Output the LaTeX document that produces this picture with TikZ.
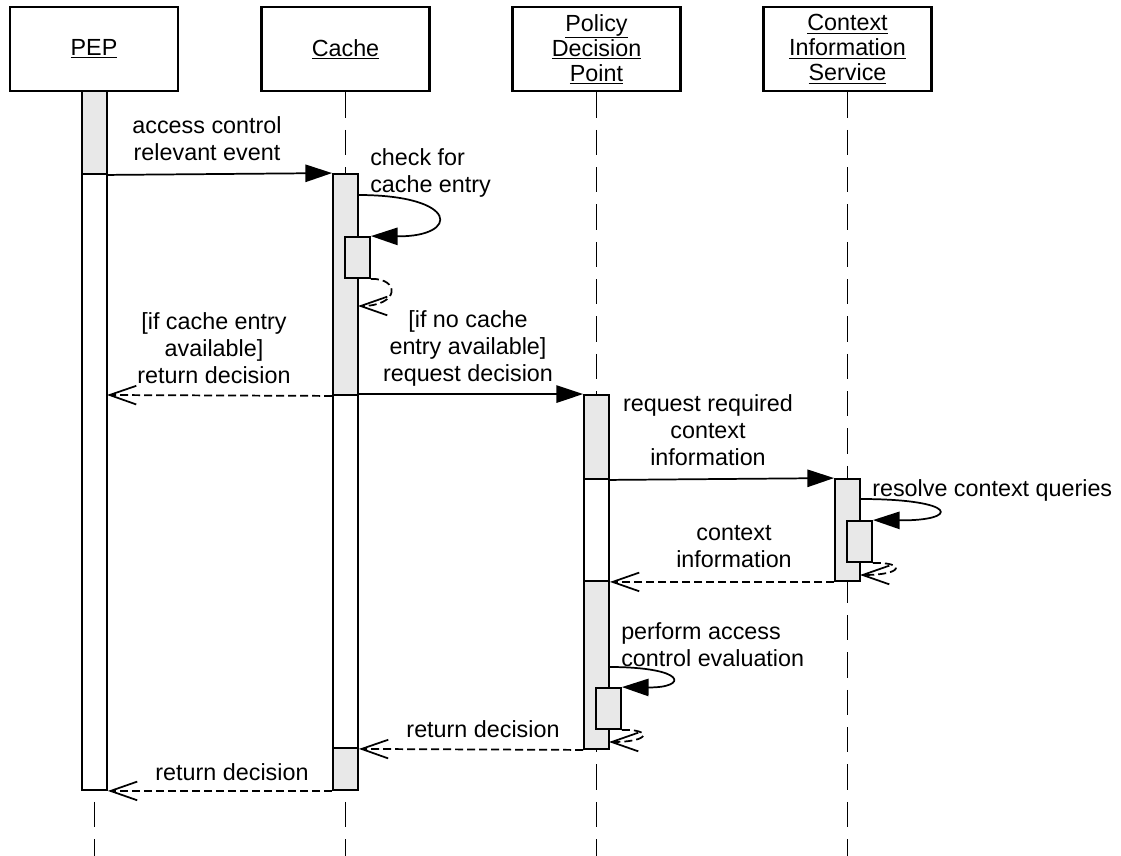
\documentclass[tikz,border=0pt]{standalone}
\usepackage{fontspec}
\setmainfont{Liberation Sans}
\usetikzlibrary{arrows.meta,fit}
\definecolor{barfill}{HTML}{E8E8E8}
\begin{document}
\begin{tikzpicture}[x=0.75pt,y=-0.75pt,
  every node/.style={font=\fontsize{17.5}{20.25}\selectfont},
  head/.style={draw, line width=2.2pt, minimum width=126pt, minimum height=63pt, align=center, inner sep=0pt, font=\fontsize{17.5}{18.75}\selectfont},
  bar/.style={draw, line width=1.4pt, inner sep=0pt, fill=white},
  gbar/.style={bar, fill=barfill},
  msg/.style={line width=1.3pt, -{Triangle[length=20pt,width=13pt]}},
  ret/.style={line width=1.3pt, dash pattern=on 6pt off 3pt, -{Straight Barb[length=20pt,width=14pt,line width=1.3pt]}},
  life/.style={line width=1.4pt, dash pattern=on 19pt off 9pt},
  lbl/.style={inner sep=0pt, align=center},
  lbll/.style={inner sep=0pt, align=left}]
\useasboundingbox (0,0) rectangle (1121,856);
% heads
\node[head] (pep) at (94,49) {\underline{PEP}};
\node[head] (cache) at (345.5,49) {\underline{Cache}};
\node[head] (pdp) at (596.5,49) {\underline{Policy}\\\underline{Decision}\\\underline{Point}};
\node[head] (cis) at (847.5,49) {\underline{Context}\\\underline{Information}\\\underline{Service}};
% lifeline ends
\coordinate (pepE) at (94.5,856);
\coordinate (cacheE) at (345.5,856);
\coordinate (pdpE) at (596.5,856);
\coordinate (cisE) at (847.5,856);
\draw[life] (pep.south -| pepE) -- (pepE);
\draw[life] (cache.south -| cacheE) -- (cacheE);
\draw[life] (pdp.south -| pdpE) -- (pdpE);
\draw[life] (cis.south -| cisE) -- (cisE);
% activation bars
\node[gbar, fit={(82,91) (107,174)}] (pep1) {};
\node[bar, fit={(82,174) (107,790)}] (pep2) {};
\node[gbar, fit={(333,174) (358,395)}] (c1) {};
\node[bar, fit={(333,395) (358,748)}] (c2) {};
\node[gbar, fit={(333,748) (358,790)}] (c3) {};
\node[gbar, fit={(345,237) (370,278)}] (cn) {};
\node[gbar, fit={(584,395) (609,479)}] (d1) {};
\node[bar, fit={(584,479) (609,581)}] (d2) {};
\node[gbar, fit={(584,581) (609,749)}] (d3) {};
\node[gbar, fit={(596,688) (621,729)}] (dn) {};
\node[gbar, fit={(835,479) (860,581)}] (s1) {};
\node[gbar, fit={(847,521) (872,562)}] (sn) {};
% helper coordinates
\coordinate (cSelfS) at (358,195);
\coordinate (cRetE) at (358,306);
\coordinate (pepR1) at (107,395);
\coordinate (sSelfS) at (860,499);
\coordinate (sRetE) at (860,575);
\coordinate (dSelfS) at (609,667);
\coordinate (dRetE) at (609,742);
% messages
\draw[msg] (pep1.south east) -- (c1.north west);
\draw[msg] (cSelfS) .. controls (460,195) and (460,237) .. (cn.north east);
\draw[ret] (cn.south east) .. controls (400,278) and (400,306) .. (cRetE);
\draw[ret] (c1.south west) -- (pepR1);
\draw[msg] (c2.north east) -- (d1.north west);
\draw[msg] (d1.south east) -- (s1.north west);
\draw[msg] (sSelfS) .. controls (960,499) and (960,521) .. (sn.north east);
\draw[ret] (sn.south east) .. controls (905,562) and (905,575) .. (sRetE);
\draw[ret] (s1.south west) -- (d2.south east);
\draw[msg] (dSelfS) .. controls (688,667) and (688,688) .. (dn.north east);
\draw[ret] (dn.south east) .. controls (652,729) and (652,742) .. (dRetE);
\draw[ret] (d3.south west) -- (c2.south east);
\draw[ret] (c3.south west) -- (pep2.south east);
% labels
\node[lbl] (l1) at (207,139) {access control\\relevant event};
\node[lbll, anchor=west] (l2) at (370,173) {check for\\cache entry};
\node[lbl] (l3) at (214,348) {[if cache entry\\available]\\return decision};
\node[lbl] (l4) at (468,348) {[if no cache\\entry available]\\request decision};
\node[lbl] (l5) at (708,430) {request required\\context\\information};
\node[lbll, anchor=west] (l6) at (872,490) {resolve context queries};
\node[lbl] (l7) at (734,547) {context\\information};
\node[lbll, anchor=west] (l8) at (621,645) {perform access\\control evaluation};
\node[lbl] (l9) at (483,729) {return decision};
\node[lbl] (l10) at (232,772) {return decision};
\end{tikzpicture}
\end{document}
